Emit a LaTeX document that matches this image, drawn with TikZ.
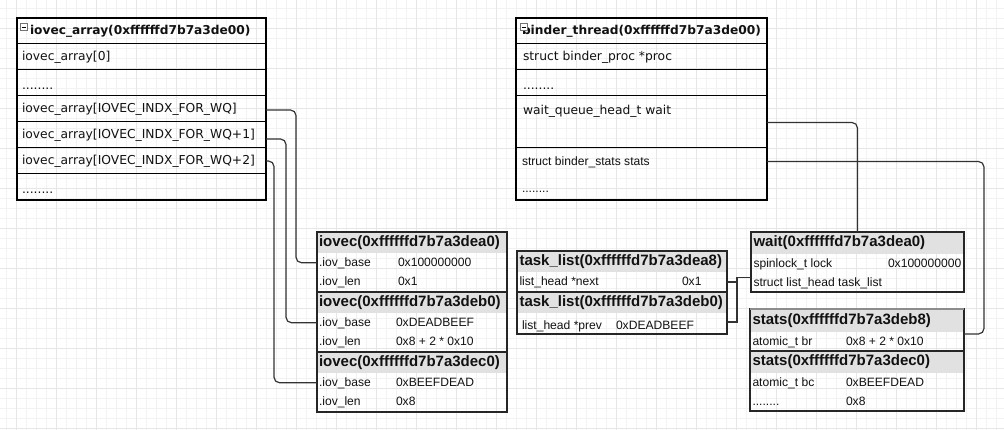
\documentclass[tikz,border=0pt]{standalone}
\usepackage{fontspec}
\setmainfont{Liberation Sans}
\newfontfamily\dvs{DejaVu Sans}
\usetikzlibrary{calc}
\definecolor{hdr}{HTML}{E1E1E1}
\definecolor{gmaj}{HTML}{E6E6E6}
\definecolor{gmin}{HTML}{F2F2F2}
\definecolor{wire}{HTML}{333333}
\definecolor{ink}{HTML}{111111}
\begin{document}
\begin{tikzpicture}[x=1pt,y=-1pt,
  every node/.style={outer sep=0pt},
  cellA/.style={draw=black, line width=1pt, anchor=north west, inner sep=0pt, minimum width=249pt, minimum height=26pt},
  cellB/.style={cellA, minimum width=251pt},
  hcell/.style={fill=hdr, anchor=north west, inner sep=0pt, minimum height=21pt},
  rcell/.style={anchor=north west, inner sep=0pt, minimum height=19.5pt},
  tbig/.style={anchor=west, inner sep=0pt, text=ink, font=\dvs\fontsize{12.3}{14}\selectfont, text height=0.73em, text depth=0pt},
  tbighd/.style={anchor=west, inner sep=0pt, text=ink, font=\dvs\bfseries\fontsize{12.2}{14}\selectfont, text height=0.73em, text depth=0pt},
  tsm/.style={anchor=west, inner sep=0pt, text=ink, font=\fontsize{12.1}{14}\selectfont, text height=0.72em, text depth=0pt},
  tsmhd/.style={anchor=west, inner sep=0pt, text=ink, font=\bfseries\fontsize{15}{18}\selectfont, text height=0.72em, text depth=0pt},
  outer/.style={draw=black, line width=1.4pt},
  sbox/.style={draw=black!85, line width=1.3pt},
  wire/.style={draw=wire, line width=1.2pt, rounded corners=5.5pt},
  wiresharp/.style={draw=wire, line width=1.2pt},
  icon/.style={draw=black!55, fill=white, line width=0.6pt, minimum size=6.5pt, inner sep=0pt}
]
\useasboundingbox (0,0) rectangle (1004,430);
\fill[white] (0,0) rectangle (1004,430);
% grid
\foreach \x in {6.5,16.5,...,1004} \draw[gmin, line width=1pt] (\x,0) -- (\x,430);
\foreach \y in {8.5,18.5,...,430} \draw[gmin, line width=1pt] (0,\y) -- (1004,\y);
\foreach \x in {16.5,56.5,...,1004} \draw[gmaj, line width=1pt] (\x,0) -- (\x,430);
\foreach \y in {28.5,68.5,...,430} \draw[gmaj, line width=1pt] (0,\y) -- (1004,\y);

% ---------------- iovec_array box
\node[cellA] (A0) at (17,18) {};
\node[cellA] (A1) at (A0.south west) {};
\node[cellA] (A2) at (A1.south west) {};
\node[cellA] (A3) at (A2.south west) {};
\node[cellA] (A4) at (A3.south west) {};
\node[cellA] (A5) at (A4.south west) {};
\node[cellA] (A6) at (A5.south west) {};
\draw[outer] (A0.north west) rectangle (A6.south east);
\node[tbighd] (tA0) at ($(A0.west)+(13,0)$) {iovec\_array(0xffffffd7b7a3de00)};
\node[icon] (iA) at (24,27) {};
\draw[line width=0.9pt] ($(iA.west)+(1.3,0)$) -- ($(iA.east)+(-1.3,0)$);
\node[tbig] (tA1) at ($(A1.west)+(5,0)$) {iovec\_array[0]};
\node[tbig] (tA2) at ($(A2.west)+(5,3)$) {........};
\node[tbig] (tA3) at ($(A3.west)+(5,0)$) {iovec\_array[IOVEC\_INDX\_FOR\_WQ]};
\node[tbig] (tA4) at ($(A4.west)+(5,0)$) {iovec\_array[IOVEC\_INDX\_FOR\_WQ+1]};
\node[tbig] (tA5) at ($(A5.west)+(5,0)$) {iovec\_array[IOVEC\_INDX\_FOR\_WQ+2]};
\node[tbig] (tA6) at ($(A6.west)+(5,3)$) {........};

% ---------------- binder_thread box
\node[cellB] (B0) at (516,18) {};
\node[cellB] (B1) at (B0.south west) {};
\node[cellB] (B2) at (B1.south west) {};
\node[cellB, minimum height=52pt] (B3) at (B2.south west) {};
\node[cellB, minimum height=52pt] (B4) at (B3.south west) {};
\draw[outer] (B0.north west) rectangle (B4.south east);
\node[tbighd] (tB0) at ($(B0.west)+(6,0)$) {binder\_thread(0xffffffd7b7a3de00)};
\node[icon] (iB) at (524,27) {};
\draw[line width=0.9pt] ($(iB.west)+(1.3,0)$) -- ($(iB.east)+(-1.3,0)$);
\node[tbig] (tB1) at ($(B1.west)+(7,0)$) {struct binder\_proc *proc};
\node[tbig] (tB2) at ($(B2.west)+(7,3)$) {........};
\node[tbig] (tB3) at ($(B3.north west)+(7,14.5)$) {wait\_queue\_head\_t wait};
\node[tsm] (tB4) at ($(B4.north west)+(6,13.5)$) {struct binder\_stats stats};
\node[tsm] (tB5) at ($(B4.north west)+(6,41)$) {........};

% ---------------- iovec boxes
\node[hcell, minimum width=190pt] (I1h) at (317,232) {};
\node[rcell, minimum width=190pt] (I1b) at (I1h.south west) {};
\node[rcell, minimum width=190pt] (I1l) at (I1b.south west) {};
\draw[sbox] (I1h.north west) rectangle (I1l.south east);
\node[tsmhd] (tI1h) at ($(I1h.west)+(2,0)$) {iovec(0xffffffd7b7a3dea0)};
\node[tsm] (tI1b) at ($(I1b.west)+(2,0)$) {.iov\_base};
\node[tsm] (vI1b) at ($(I1b.west)+(81,0)$) {0x100000000};
\node[tsm] (tI1l) at ($(I1l.west)+(2,0)$) {.iov\_len};
\node[tsm] (vI1l) at ($(I1l.west)+(81,0)$) {0x1};

\node[hcell, minimum width=190pt] (I2h) at (I1l.south west) {};
\node[rcell, minimum width=190pt] (I2b) at (I2h.south west) {};
\node[rcell, minimum width=190pt] (I2l) at (I2b.south west) {};
\draw[sbox] (I2h.north west) rectangle (I2l.south east);
\node[tsmhd] (tI2h) at ($(I2h.west)+(2,0)$) {iovec(0xffffffd7b7a3deb0)};
\node[tsm] (tI2b) at ($(I2b.west)+(2,0)$) {.iov\_base};
\node[tsm] (vI2b) at ($(I2b.west)+(79,0)$) {0xDEADBEEF};
\node[tsm] (tI2l) at ($(I2l.west)+(2,0)$) {.iov\_len};
\node[tsm] (vI2l) at ($(I2l.west)+(79,0)$) {0x8 + 2 * 0x10};

\node[hcell, minimum width=190pt] (I3h) at (I2l.south west) {};
\node[rcell, minimum width=190pt] (I3b) at (I3h.south west) {};
\node[rcell, minimum width=190pt] (I3l) at (I3b.south west) {};
\draw[sbox] (I3h.north west) rectangle (I3l.south east);
\node[tsmhd] (tI3h) at ($(I3h.west)+(2,0)$) {iovec(0xffffffd7b7a3dec0)};
\node[tsm] (tI3b) at ($(I3b.west)+(2,0)$) {.iov\_base};
\node[tsm] (vI3b) at ($(I3b.west)+(79,0)$) {0xBEEFDEAD};
\node[tsm] (tI3l) at ($(I3l.west)+(2,0)$) {.iov\_len};
\node[tsm] (vI3l) at ($(I3l.west)+(79,0)$) {0x8};

% ---------------- task_list boxes
\node[hcell, minimum width=210pt] (T0) at (517,251) {};
\node[rcell, minimum width=210pt, minimum height=20pt] (T1) at (T0.south west) {};
\draw[sbox] (T0.north west) rectangle (T1.south east);
\node[tsmhd] (tT0) at ($(T0.west)+(2.5,0)$) {task\_list(0xffffffd7b7a3dea8)};
\node[tsm] (tT1) at ($(T1.west)+(2.5,0)$) {list\_head *next};
\node[tsm] (vT1) at ($(T1.west)+(165,0)$) {0x1};
\node[hcell, minimum width=210pt] (T2) at (T1.south west) {};
\node[rcell, minimum width=210pt, minimum height=21pt] (T3) at (T2.south west) {};
\draw[sbox] (T2.north west) rectangle (T3.south east);
\node[tsmhd] (tT2) at ($(T2.west)+(2.5,0)$) {task\_list(0xffffffd7b7a3deb0)};
\node[tsm] (tT3) at ($(T3.west)+(5,2)$) {list\_head *prev};
\node[tsm] (vT3) at ($(T3.west)+(99,2)$) {0xDEADBEEF};

% ---------------- wait box
\node[hcell, minimum width=213pt, minimum height=22pt] (W0) at (751,232) {};
\node[rcell, minimum width=213pt, minimum height=19pt] (W1) at (W0.south west) {};
\node[rcell, minimum width=213pt, minimum height=19pt] (W2) at (W1.south west) {};
\draw[sbox] (W0.north west) rectangle (W2.south east);
\node[tsmhd] (tW0) at ($(W0.west)+(2.5,0)$) {wait(0xffffffd7b7a3dea0)};
\node[tsm] (tW1) at ($(W1.west)+(2.5,0)$) {spinlock\_t lock};
\node[tsm] (vW1) at ($(W1.west)+(137,0)$) {0x100000000};
\node[tsm] (tW2) at ($(W2.west)+(2.5,0)$) {struct list\_head task\_list};

% ---------------- stats boxes
\node[hcell, minimum width=214pt, minimum height=23pt] (S0) at (750,309) {};
\node[rcell, minimum width=214pt, minimum height=19pt] (S1) at (S0.south west) {};
\draw[sbox] (S0.north west) rectangle (S1.south east);
\draw[black!45, line width=1.3pt] (S0.north west) -- (S0.north east);
\node[tsmhd] (tS0) at ($(S0.west)+(2.5,0)$) {stats(0xffffffd7b7a3deb8)};
\node[tsm] (tS1) at ($(S1.west)+(2.5,0)$) {atomic\_t br};
\node[tsm] (vS1) at ($(S1.west)+(96,0)$) {0x8 + 2 * 0x10};
\node[hcell, minimum width=214pt, minimum height=22pt] (S2) at (S1.south west) {};
\node[rcell, minimum width=214pt, minimum height=19pt] (S3) at (S2.south west) {};
\node[rcell, minimum width=214pt, minimum height=19pt] (S4) at (S3.south west) {};
\draw[sbox] (S2.north west) rectangle (S4.south east);
\node[tsmhd] (tS2) at ($(S2.west)+(2.5,0)$) {stats(0xffffffd7b7a3dec0)};
\node[tsm] (tS3) at ($(S3.west)+(2.5,0)$) {atomic\_t bc};
\node[tsm] (vS3) at ($(S3.west)+(96,0)$) {0xBEEFDEAD};
\node[tsm] (tS4) at ($(S4.west)+(2.5,0)$) {........};
\node[tsm] (vS4) at ($(S4.west)+(96,0)$) {0x8};

% ---------------- connectors
\draw[wire] ($(A3.east)+(0,1)$) -- ++(30,0) |- (I1b.west);
\draw[wire] ($(A4.east)+(0,4)$) -- ++(20,0) |- (I2b.west);
\draw[wire] ($(A5.east)+(0,0)$) -- ++(8,0) |- (I3b.west);
\draw[wire] ($(B3.east)+(0,0.5)$) -| (W0.north);
\draw[wire] ($(B4.east)+(0,-12.5)$) -- ++(217,0) |- ($(S1.east)+(0,-7.5)$);
\draw[wiresharp] ($(W2.west)+(0,-5)$) -- ++(-14,0) |- (T1.east);
\draw[wiresharp] ($(W2.west)+(0,-5)$) -- ++(-14,0) |- ($(T3.east)+(0,-1.5)$);
\end{tikzpicture}
\end{document}
